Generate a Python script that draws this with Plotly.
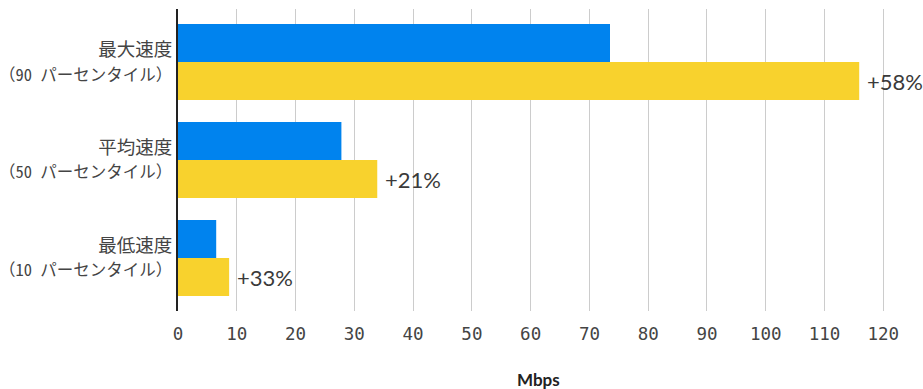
import plotly.graph_objects as go

category_names = ["最大速度", "平均速度", "最低速度"]
percentile_labels = ["（90 パーセンタイル）", "（50 パーセンタイル）", "（10 パーセンタイル）"]
before = [73.5, 27.8, 6.5]
after = [115.9, 33.9, 8.7]
change_labels = ["+58%", "+21%", "+33%"]
x_ticks = list(range(0, 121, 10))
x_title = "Mbps"

tick_text = [f"{n}<br><span style='font-size:16.5px'>{p}</span>"
             for n, p in zip(category_names, percentile_labels)]

fig = go.Figure()
fig.add_trace(go.Bar(y=category_names, x=before, orientation="h", marker_color="#0083ee",
                     marker_line_width=0, name="before", showlegend=False))
fig.add_trace(go.Bar(y=category_names, x=after, orientation="h", marker_color="#f8d22d",
                     marker_line_width=0, name="after", showlegend=False))

for i, (v, lab) in enumerate(zip(after, change_labels)):
    fig.add_annotation(x=v, y=i + 0.194, xref="x", yref="y", text=lab, showarrow=False,
                       xanchor="left", yanchor="middle", xshift=6,
                       font=dict(family="Lato", size=22, color="#3a3a3a"))

fig.add_annotation(x=0.5, y=-0.228, xref="paper", yref="paper", text="<b>" + x_title + "</b>",
                   showarrow=False, xanchor="center", yanchor="middle",
                   font=dict(family="Lato", size=17, color="#222222"))

fig.update_layout(
    width=923, height=389,
    margin=dict(l=178, r=25, t=9, b=78),
    barmode="group", bargap=0.224, bargroupgap=0,
    plot_bgcolor="white", paper_bgcolor="white",
)
fig.update_xaxes(
    range=[0, 122.5], tickvals=x_ticks, showgrid=True, gridcolor="#cccccc", gridwidth=1,
    zeroline=False, showline=False, automargin=False, ticklabelstandoff=10,
    tickfont=dict(family="DejaVu Sans Mono", size=17.5, color="#444444"),
)
fig.update_yaxes(
    type="category", categoryorder="array", categoryarray=category_names,
    tickvals=category_names, ticktext=tick_text,
    range=[2.541, -0.541], showgrid=False, showline=True, linecolor="#222222", linewidth=2,
    ticks="", ticklabelstandoff=0, automargin=False,
    tickfont=dict(family="Noto Sans Mono CJK JP, Noto Sans CJK JP", size=18.5, color="#444444"),
)
fig.write_html("out.html")
